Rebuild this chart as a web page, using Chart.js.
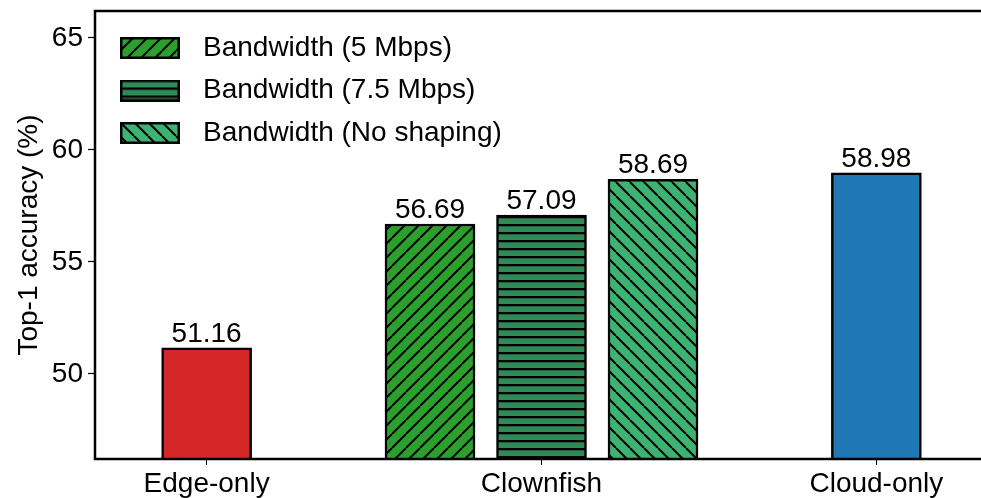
<!DOCTYPE html>
<html><head><meta charset="utf-8">
<script src="https://cdn.jsdelivr.net/npm/chart.js@4.4.1/dist/chart.umd.min.js"></script>
<style>html,body{margin:0;padding:0;background:#fff;overflow:hidden;} #wrap{width:1000px;height:498px;}</style>
</head><body><div id="wrap"><canvas id="c" width="1000" height="498" style="width:1000px;height:498px"></canvas></div>
<script>
// ---- data ----
const categories = ['Edge-only', 'Clownfish', 'Cloud-only'];
const edgeOnly  = [51.16, null, null];
const bw5       = [null, 56.69, null];
const bw75      = [null, 57.09, null];
const bwNone    = [null, 58.69, null];
const cloudOnly = [null, null, 58.98];
const seriesLabels = ['Edge-only', 'Bandwidth (5 Mbps)', 'Bandwidth (7.5 Mbps)', 'Bandwidth (No shaping)', 'Cloud-only'];
const yTicks = [50, 55, 60, 65];

// ---- styles ----
const FONT = '"Liberation Sans", Arial, Helvetica, sans-serif';
const FS = 28;
const colors = ['#d62728', '#2ca02c', '#2e8b57', '#3cb371', '#1f77b4'];
const hatchKinds = [null, '/', '-', '\\', null];

function makeTile(color, kind) {
  const p = kind === '-' ? 8 : 14;
  const c = document.createElement('canvas');
  c.width = p; c.height = p;
  const x = c.getContext('2d');
  x.fillStyle = color; x.fillRect(0, 0, p, p);
  x.strokeStyle = '#000'; x.fillStyle = '#000'; x.lineWidth = 2;
  if (kind === '-') {
    x.fillRect(0, 0, p, 2.3);
  } else {
    x.beginPath();
    for (const k of [-1, 0, 1]) {
      if (kind === '/') { x.moveTo(k * p, p); x.lineTo(k * p + p, 0); }
      else { x.moveTo(k * p, 0); x.lineTo(k * p + p, p); }
    }
    x.stroke();
  }
  return c;
}
const mainCtx = document.getElementById('c').getContext('2d');
const fills = colors.map((col, i) => hatchKinds[i] ? mainCtx.createPattern(makeTile(col, hatchKinds[i]), 'repeat') : col);

function makeIcon(i) {
  const c = document.createElement('canvas');
  c.width = 60; c.height = 22;
  const x = c.getContext('2d');
  x.fillStyle = x.createPattern(makeTile(colors[i], hatchKinds[i]), 'repeat');
  x.fillRect(0, 0, 60, 22);
  x.strokeStyle = '#000'; x.lineWidth = 2.5;
  x.strokeRect(1.25, 1.25, 57.5, 19.5);
  return c;
}
const legendIcons = [null, makeIcon(1), makeIcon(2), makeIcon(3), null];

const seriesValues = [edgeOnly, bw5, bw75, bwNone, cloudOnly];
const datasets = seriesValues.map((vals, i) => ({
  label: seriesLabels[i],
  data: vals.map((v, k) => ({ x: k, y: v })),
  backgroundColor: fills[i],
  borderColor: '#000',
  borderWidth: 2.5,
  borderSkipped: false,
  barThickness: 111.5,
  maxBarThickness: 90,
  skipNull: true
}));

const framePlugin = {
  id: 'frame',
  afterLayout(chart) {
    if (chart.legend) { chart.legend.left += 1.5; chart.legend.top += 19.5; chart.legend.bottom += 19.5; }
  },
  afterDatasetsDraw(chart) {
    const { ctx, chartArea: a } = chart;
    ctx.save();
    ctx.strokeStyle = '#000'; ctx.lineWidth = 2.5;
    ctx.strokeRect(a.left, a.top, a.right - a.left, a.bottom - a.top);
    // value labels
    ctx.fillStyle = '#000';
    ctx.font = FS + 'px ' + FONT;
    ctx.textAlign = 'center'; ctx.textBaseline = 'alphabetic';
    chart.data.datasets.forEach((ds, di) => {
      const meta = chart.getDatasetMeta(di);
      meta.data.forEach((el, k) => {
        const v = ds.data[k].y;
        if (v === null || v === undefined) return;
        ctx.fillText(v.toFixed(2), el.x, el.y - 6);
      });
    });
    ctx.restore();
  }
};

new Chart(document.getElementById('c'), {
  type: 'bar',
  data: { datasets },
  options: {
    responsive: false,
    animation: false,
    layout: { padding: { top: 11, right: 12, left: 0, bottom: 0 } },
    plugins: {
      tooltip: { enabled: false },
      legend: {
        position: 'chartArea',
        align: 'start',
        labels: {
          usePointStyle: true,
          pointStyleWidth: 78,
          padding: 14.5,
          color: '#000',
          font: { size: FS, family: FONT },
          generateLabels: (chart) => chart.data.datasets.map((ds, i) => ({
            text: ds.label, pointStyle: legendIcons[i], datasetIndex: i,
            hidden: false, lineWidth: 0, fontColor: '#000'
          })).filter(it => legendIcons[it.datasetIndex])
        }
      }
    },
    scales: {
      x: {
        type: 'linear',
        offset: false,
        min: -1 / 3, max: 7 / 3,
        afterBuildTicks: (axis) => { axis.ticks = categories.map((c, i) => ({ value: i })); },
        afterFit: (axis) => { axis.height = 39; axis.paddingLeft = 0; axis.paddingRight = 0; },
        ticks: {
          color: '#000', font: { size: FS, family: FONT }, padding: 2,
          callback: (v) => categories[v]
        },
        grid: { display: true, offset: false, drawOnChartArea: false, drawTicks: true, tickLength: 6, tickColor: '#000', tickWidth: 1 },
        border: { display: false }
      },
      y: {
        min: 46.2, max: 66.2,
        afterBuildTicks: (axis) => { axis.ticks = yTicks.map(v => ({ value: v })); },
        afterFit: (axis) => { axis.width = 95; axis.paddingTop = 0; axis.paddingBottom = 0; },
        ticks: { color: '#000', font: { size: FS, family: FONT }, padding: 5 },
        grid: { display: true, drawOnChartArea: false, drawTicks: true, tickLength: 7, tickColor: '#000', tickWidth: 1.2 },
        border: { display: false },
        title: { display: true, text: 'Top-1 accuracy (%)', color: '#000', font: { size: FS, family: FONT }, padding: { top: 12, bottom: 0 } }
      }
    }
  },
  plugins: [framePlugin]
});
</script>
</body></html>
